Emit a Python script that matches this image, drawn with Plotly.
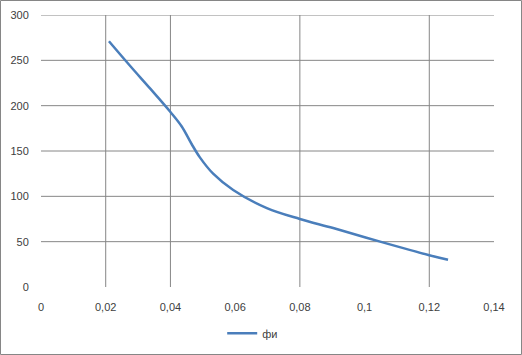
import plotly.graph_objects as go

# Data
x_vals = [0.021, 0.0275, 0.0337, 0.040, 0.0435, 0.0465, 0.0491, 0.0532, 0.0594,
          0.0698, 0.080, 0.0903, 0.1048, 0.120, 0.1258]
y_vals = [271, 244, 219, 193, 177, 158, 143, 125, 107, 87, 75, 65, 50, 35, 30]
series_name = "фи"

x_ticks = [0, 0.02, 0.04, 0.06, 0.08, 0.1, 0.12, 0.14]
x_ticktext = ["0", "0,02", "0,04", "0,06", "0,08", "0,1", "0,12", "0,14"]
y_ticks = [0, 50, 100, 150, 200, 250, 300]
h_grid = [50, 100, 150, 200, 250, 300]
v_grid = [0.02, 0.04, 0.08, 0.12]

W, H = 522, 355
ML, MR, MT, MB = 41, 28, 15, 68
PW, PH = W - ML - MR, H - MT - MB
GRID = "#868686"
FONT = dict(family="Liberation Sans, Arial, sans-serif", size=11, color="#404040")

fig = go.Figure()
fig.add_trace(go.Scatter(
    x=x_vals, y=y_vals, mode="lines", name=series_name,
    line=dict(color="#4A7EBB", width=2.5, shape="spline", smoothing=1.0),
))

shapes = []
for yv in h_grid:
    shapes.append(dict(type="line", xref="x", yref="y", x0=0, x1=0.14, y0=yv, y1=yv,
                       line=dict(color=GRID, width=1), layer="below"))
for xv in v_grid:
    shapes.append(dict(type="line", xref="x", yref="y", x0=xv, x1=xv, y0=0, y1=300,
                       line=dict(color=GRID, width=1), layer="below"))
# chart border
shapes.append(dict(type="rect", xref="paper", yref="paper",
                   x0=(0.5 - ML) / PW, x1=(W - 0.5 - ML) / PW,
                   y0=-(MB - 0.5) / PH, y1=(PH + MT - 0.5) / PH,
                   line=dict(color=GRID, width=1), fillcolor="rgba(0,0,0,0)"))

fig.update_layout(
    width=W, height=H,
    margin=dict(l=ML, r=MR, t=MT, b=MB, pad=0, autoexpand=False),
    paper_bgcolor="white", plot_bgcolor="white",
    font=FONT,
    shapes=shapes,
    showlegend=True,
    legend=dict(orientation="h", x=0.4, xanchor="left", y=-0.17, yanchor="middle",
                font=FONT, bgcolor="rgba(0,0,0,0)"),
    xaxis=dict(range=[0, 0.14], tickvals=x_ticks, ticktext=x_ticktext,
               showgrid=False, zeroline=False, showline=False, automargin=False,
               ticks="outside", ticklen=10, tickcolor="rgba(0,0,0,0)"),
    yaxis=dict(range=[0, 300], tickvals=y_ticks, automargin=False,
               showgrid=False, zeroline=False, showline=False,
               ticks="outside", ticklen=9, tickcolor="rgba(0,0,0,0)"),
)

fig.write_html("out.html")
